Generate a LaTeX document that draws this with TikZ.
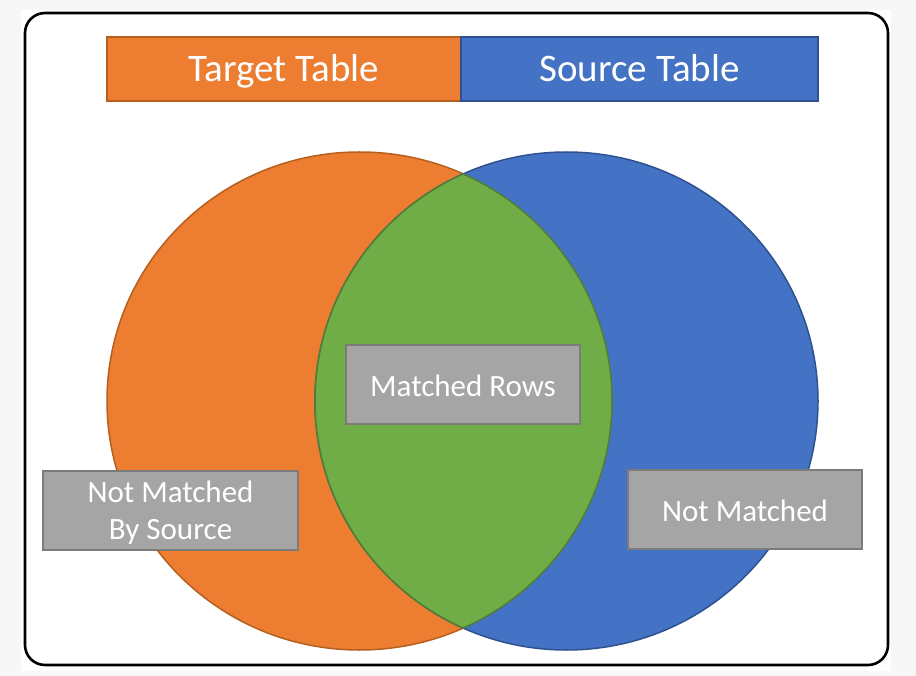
\documentclass[tikz,border=0pt]{standalone}
\usepackage{fontspec}
\setmainfont{Carlito}
\begin{document}
\definecolor{tgtfill}{HTML}{ED7D31}
\definecolor{tgtline}{HTML}{B5601F}
\definecolor{srcfill}{HTML}{4472C4}
\definecolor{srcline}{HTML}{2F528F}
\definecolor{matchfill}{HTML}{70AD47}
\definecolor{matchline}{HTML}{507E32}
\definecolor{tagfill}{HTML}{A5A5A5}
\definecolor{tagline}{HTML}{7B7B7B}
\definecolor{pagebg}{HTML}{F7F7F7}
\begin{tikzpicture}[x=1pt,y=-1pt,
  header/.style={draw, line width=1.5pt, minimum height=64pt, inner sep=0pt,
    text height=25pt, text depth=0pt,
    text=white, font=\fontsize{39}{46}\selectfont},
  tag/.style={draw=tagline, fill=tagfill, line width=2pt, inner sep=0pt,
    minimum height=79pt, align=center, text=white,
    font=\fontsize{31}{37}\selectfont},
  oneline/.style={text height=24pt, text depth=0pt}]
  \useasboundingbox (0,0) rectangle (916,676);
  % page and outer frame
  \fill[pagebg] (0,0) rectangle (916,676);
  \fill[white] (21,10) rectangle (891,671);
  \draw[line width=2.6pt, rounded corners=20pt] (25,13) rectangle (888,665);
  % title bar
  \node[header, fill=tgtfill, draw=tgtline, minimum width=354pt] (target) at (284,69) {Target Table};
  \node[header, fill=srcfill, draw=srcline, minimum width=357pt] (source) at (639.5,69) {Source Table};
  % the two sets
  \def\tgtset{(359.5,401) ellipse [x radius=252.5, y radius=249]}
  \def\srcset{(566.5,401) ellipse [x radius=251.5, y radius=249]}
  \filldraw[fill=tgtfill, draw=tgtline, line width=1.5pt] \tgtset;
  \filldraw[fill=srcfill, draw=srcline, line width=1.5pt] \srcset;
  % overlap of the two sets
  \begin{scope}
    \clip \tgtset;
    \fill[matchfill] \srcset;
    \draw[matchline, line width=1.5pt] \srcset;
  \end{scope}
  \begin{scope}
    \clip \srcset;
    \draw[matchline, line width=1.5pt] \tgtset;
  \end{scope}
  % region labels
  \node[tag, oneline, minimum width=234pt] (matched) at (463,384.5) {Matched Rows};
  \node[tag, minimum width=255pt] (bysource) at (170.5,510) {\raisebox{-3pt}[\height][\depth]{\parbox{250pt}{\centering Not Matched\\By Source}}};
  \node[tag, oneline, minimum width=234pt] (bytarget) at (745,509) {Not Matched};
\end{tikzpicture}
\end{document}
